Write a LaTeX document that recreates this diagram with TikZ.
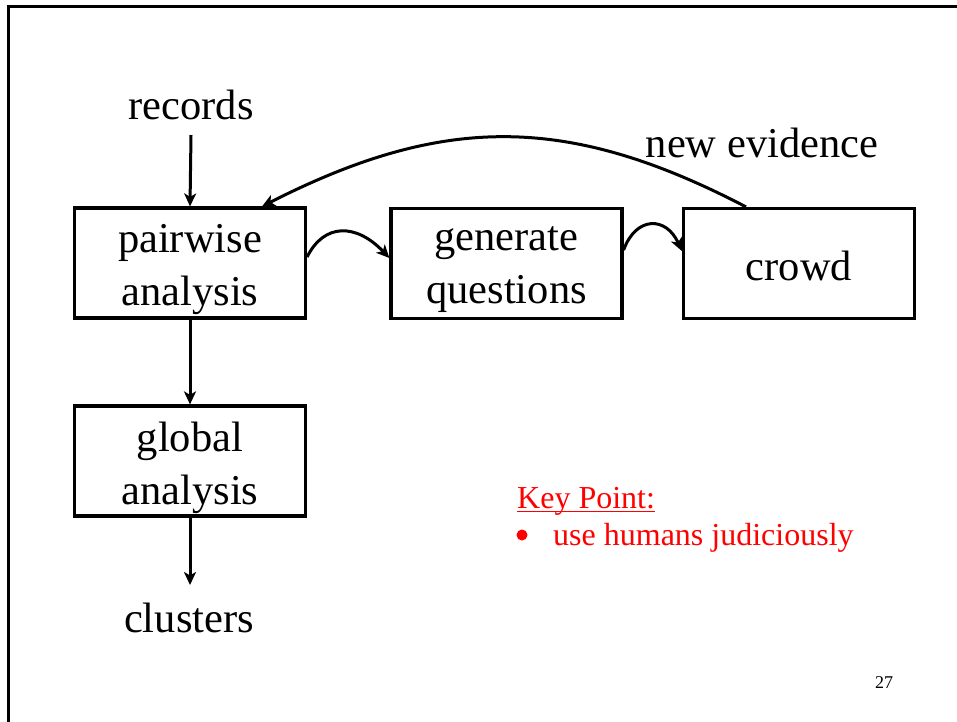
\documentclass[tikz,border=0pt]{standalone}
\usepackage{fontspec}
\setmainfont{Liberation Serif}
\usetikzlibrary{arrows.meta,calc}
\definecolor{keyred}{RGB}{255,0,0}
\tikzset{
  big/.style={font=\fontsize{42.5}{53}\selectfont, inner sep=0pt},
  stepbox/.style={draw, line width=3.2pt, minimum width=231pt, minimum height=110pt},
  steptext/.style={big, align=center},
  arr/.style={line width=3pt, -{Stealth[length=13pt,width=12pt,inset=3.5pt]}},
  note/.style={font=\fontsize{32}{38}\selectfont, text=keyred, inner sep=0pt},
}
\begin{document}
\begin{tikzpicture}[x=1pt,y=-1pt]
  \useasboundingbox (0,0) rectangle (957,721);
  % slide frame (left and top edges)
  \draw[line width=3pt] (8,725) -- (8,6) -- (961,6);

  % process boxes
  \node[stepbox] (pw)    at (190,263)     {};
  \node[stepbox] (gen)   at (506.5,263.5) {};
  \node[stepbox] (crowd) at (799,263.5)   {};
  \node[stepbox] (glob)  at (190,461)     {};

  % box captions
  \node[steptext] (pwt)    at ($(pw)+(0,6.5)$)    {pairwise\\analysis};
  \node[steptext] (gent)   at ($(gen)+(0,6.5)$)   {generate\\questions};
  \node[steptext] (crowdt) at ($(crowd)+(0,2)$)   {crowd};
  \node[steptext] (globt)  at ($(glob)+(0,7)$)    {global\\analysis};

  % input / output labels
  \node[big, anchor=base] (rec) at (191,119) {records};
  \node[big, anchor=base] (clu) at (189,632) {clusters};
  \node[big, anchor=base] (ev)  at (762,157) {new evidence};
  \coordinate (cend) at (190,585);

  % straight flow
  \draw[arr] ([yshift=-16pt]rec.base) -- (pw.north);
  \draw[arr] (pw.south) -- (glob.north);
  \draw[arr] (glob.south) -- (cend);

  % humped hand-offs
  \draw[arr] ([yshift=6pt]pw.east) .. controls (324,223) and (356,223) .. ([yshift=5.5pt]gen.west);
  \draw[arr] ([yshift=13.5pt]gen.east) .. controls (636,216) and (666,216) .. ([yshift=12.5pt]crowd.west);

  % feedback from the crowd
  \draw[arr] ([xshift=-53pt]crowd.north) .. controls (566,113) and (442,115) .. ([xshift=72pt]pw.north);

  % key point
  \node[note, anchor=base west] (kp) at (517,508) {Key Point:};
  \draw[keyred, line width=1.6pt] ([yshift=-3.5pt]kp.base west) -- ([yshift=-3.5pt]kp.base east);
  \node[circle, fill=keyred, minimum size=11pt, inner sep=0pt] (bul) at (522,535) {};
  \node[note, anchor=base west] (use) at (553,545) {use humans judiciously};

  % page number
  \node[font=\fontsize{18}{22}\selectfont, inner sep=0pt, anchor=base west] (pg) at (875,688) {27};
\end{tikzpicture}
\end{document}
